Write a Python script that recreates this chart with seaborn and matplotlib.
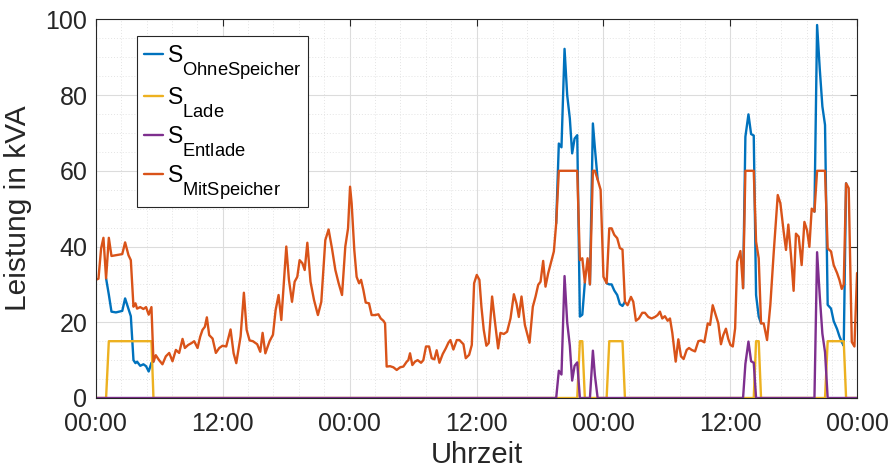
import numpy as np
import pandas as pd
import matplotlib
matplotlib.use("Agg")
import matplotlib.pyplot as plt
import matplotlib._mathtext as _mt
from matplotlib.lines import Line2D
from matplotlib.ticker import MultipleLocator, FixedLocator
import seaborn as sns

# ---------------- data (time in hours from first 00:00) ----------------
mit_t = [0.00, 0.25, 0.50, 0.72, 0.97, 1.23, 1.48, 1.90, 2.50, 2.77, 3.09, 3.31, 3.56, 3.75, 3.90,
         4.20, 4.50, 4.75, 5.00, 5.26, 5.45, 5.67, 5.98, 6.30, 6.62, 6.94, 7.25, 7.57, 7.88, 8.20,
         8.42, 8.73, 9.05, 9.30, 9.62, 9.87, 10.09, 10.31, 10.50, 10.72, 11.04, 11.35, 11.67, 11.98,
         12.33, 12.74, 13.03, 13.28, 13.69, 14.00, 14.26, 14.54, 14.85, 15.26, 15.55, 15.77, 16.03,
         16.43, 16.75, 17.00, 17.28, 17.54, 18.01, 18.26, 18.55, 18.80, 19.05, 19.27, 19.53, 19.75,
         20.00, 20.30, 20.63, 21.00, 21.32, 21.70, 22.01, 22.33, 22.65, 22.96, 23.28, 23.59, 23.85,
         24.04, 24.19, 24.44, 24.66, 24.89, 25.08, 25.30, 25.52, 25.83, 26.08, 26.40, 26.72, 26.94,
         27.19, 27.35, 27.50, 27.82, 28.14, 28.45, 28.77, 29.08, 29.40, 29.55, 29.71, 29.93, 30.18,
         30.43, 30.75, 30.97, 31.22, 31.51, 31.76, 32.01, 32.23, 32.49, 32.80, 33.09, 33.34, 33.53,
         33.81, 34.13, 34.38, 34.76, 34.98, 35.30, 35.55, 35.77, 36.02, 36.27, 36.46, 36.68, 36.93,
         37.15, 37.47, 37.72, 38.04, 38.26, 38.58, 38.89, 39.21, 39.53, 39.78, 40.00, 40.25, 40.57,
         41.01, 41.32, 41.58, 41.83, 42.05, 42.30, 42.52, 42.77, 43.02, 43.31, 43.53, 43.78, 44.03,
         44.32, 44.57, 44.82, 45.04, 45.27, 45.52, 45.77, 46.00, 46.24, 46.50, 46.72, 47.00, 47.19,
         47.45, 47.73, 48.00, 48.30, 48.55, 48.77, 49.02, 49.30, 49.55, 49.80, 50.03, 50.28, 50.60,
         50.82, 51.07, 51.35, 51.67, 51.92, 52.24, 52.55, 52.87, 53.12, 53.34, 53.56, 53.81, 54.07,
         54.29, 54.51, 54.83, 55.08, 55.33, 55.58, 55.87, 56.09, 56.34, 56.66, 56.97, 57.23, 57.54,
         57.86, 58.08, 58.33, 58.62, 58.86, 59.11, 59.33, 59.58, 59.80, 60.01, 60.23, 60.45, 60.64,
         60.95, 61.20, 61.42, 61.71, 61.96, 62.21, 62.43, 62.68, 62.90, 63.15, 63.47, 63.78, 64.10,
         64.48, 64.73, 65.04, 65.26, 65.48, 65.73, 65.98, 66.20, 66.46, 66.74, 67.00, 67.25, 67.47,
         67.69, 67.95, 68.20, 68.95, 69.20, 69.52, 69.77, 70.09, 70.31, 70.53, 70.72, 70.94, 71.19,
         71.48, 71.73, 71.98]
mit_v = [31.2, 31.5, 39.5, 42.3, 31.6, 42.3, 37.5, 37.7, 38.0, 41.1, 37.7, 36.4, 24.1, 25.0, 23.6,
         24.0, 23.5, 24.0, 22.0, 24.0, 9.6, 11.3, 10.0, 8.9, 11.0, 11.9, 9.7, 12.7, 11.9, 15.6,
         13.2, 14.0, 14.5, 15.0, 13.2, 16.2, 18.0, 18.8, 21.3, 16.6, 15.7, 11.9, 13.2, 13.8,
         13.6, 18.1, 11.8, 9.2, 16.3, 27.8, 18.0, 15.2, 15.0, 14.2, 12.2, 17.2, 11.8,
         15.0, 16.7, 23.2, 27.2, 20.6, 40.0, 31.2, 25.4, 30.7, 32.0, 36.4, 35.6, 33.8,
         41.0, 30.7, 25.9, 21.9, 25.4, 41.7, 44.5, 39.5, 33.8, 30.3, 27.2, 40.0, 44.8,
         55.8, 51.4, 39.1, 32.0, 30.3, 31.2, 28.5, 25.2, 25.0, 21.9, 21.9, 22.1, 21.0,
         20.4, 19.7, 8.3, 8.4, 8.1, 7.4, 8.1, 8.3, 9.6, 10.0, 11.8, 8.7, 9.6,
         10.0, 9.3, 10.0, 13.6, 13.6, 10.5, 10.2, 12.6, 9.3, 11.6, 13.1, 14.6, 15.3,
         12.8, 15.3, 15.3, 14.2, 10.5, 11.4, 14.0, 30.3, 32.5, 31.2, 24.1, 18.0, 13.8,
         14.5, 26.8, 20.6, 13.1, 17.2, 16.9, 17.5, 21.0, 27.4, 24.9, 21.4, 26.8, 19.3,
         14.6, 24.1, 26.8, 29.9, 30.7, 36.2, 29.4, 32.9, 35.6, 38.7, 46.1, 60.0, 60.0,
         60.0, 60.0, 60.0, 60.0, 60.0, 60.0, 36.4, 36.9, 30.5, 36.9, 30.0, 60.0, 60.0,
         57.7, 55.0, 32.0, 30.3, 44.8, 44.8, 43.1, 42.2, 39.6, 39.2, 25.4, 24.5, 26.7,
         25.4, 20.4, 21.0, 22.5, 22.5, 21.4, 21.0, 21.4, 21.9, 22.8, 21.0, 21.6, 20.4,
         21.0, 17.2, 9.6, 15.5, 11.0, 10.3, 12.7, 13.2, 12.7, 12.3, 15.0, 15.2, 14.7,
         19.7, 19.3, 24.5, 21.9, 19.7, 14.2, 16.6, 18.3, 15.6, 14.0, 13.6, 18.4, 36.0,
         38.8, 29.0, 60.0, 60.0, 60.0, 60.0, 41.3, 36.9, 19.7, 19.7, 15.3, 24.6, 38.5,
         53.6, 51.4, 43.9, 39.1, 45.8, 37.7, 28.3, 43.4, 42.6, 35.1, 46.5, 44.3, 39.9,
         50.0, 49.2, 60.0, 60.0, 39.5, 38.7, 35.1, 33.0, 31.2, 28.8, 30.0, 56.7, 55.4,
         14.8, 13.6, 33.0]

# S_OhneSpeicher: only where it differs from S_MitSpeicher (elsewhere identical, hidden below)
ohne_seg = [1] * 17 + [2] * 12 + [3] * 4 + [4] * 8 + [5] * 8 + [6] * 13
ohne_t = [0.97, 1.23, 1.48, 1.90, 2.50, 2.77, 3.09, 3.31, 3.56, 3.75, 3.90, 4.20, 4.50, 4.75, 5.00, 5.26, 5.45,
          43.53, 43.78, 44.03, 44.32, 44.57, 44.82, 45.04, 45.27, 45.52, 45.77, 46.00, 46.24,
          46.72, 47.00, 47.19, 47.45,
          48.30, 48.55, 48.77, 49.02, 49.30, 49.55, 49.80, 50.03,
          61.20, 61.42, 61.71, 61.96, 62.21, 62.43, 62.68, 62.90,
          67.95, 68.20, 68.45, 68.70, 68.95, 69.20, 69.52, 69.77, 70.09, 70.31, 70.53, 70.72, 70.94]
ohne_v = [31.6, 27.3, 22.8, 22.6, 23.0, 26.3, 23.5, 21.6, 10.0, 9.2, 9.6, 8.5, 8.9, 8.4, 7.0, 9.3, 9.6,
          46.1, 67.2, 66.2, 92.2, 80.0, 73.8, 64.6, 68.5, 69.4, 21.5, 22.0, 30.5,
          30.0, 72.5, 66.0, 57.7,
          30.3, 30.0, 30.0, 28.4, 27.2, 24.8, 24.3, 25.4,
          29.0, 69.0, 74.9, 69.7, 69.3, 27.2, 21.5, 19.7,
          49.2, 98.5, 87.0, 77.0, 72.1, 24.6, 23.6, 20.3, 18.2, 16.3, 14.8, 13.8, 56.7]

lade_t = [0, 0.97, 1.23, 5.26, 5.45, 45.52, 45.77, 46.00, 46.24, 48.30, 48.55, 49.80, 50.03,
          62.21, 62.43, 62.68, 62.90, 68.95, 69.20, 70.72, 70.94, 72]
lade_v = [0, 0, 15, 15, 0, 0, 15, 15, 0, 0, 15, 15, 0, 0, 15, 15, 0, 0, 15, 15, 0, 0]

entlade_t = [0, 43.53, 43.78, 44.03, 44.32, 44.57, 44.82, 45.04, 45.27, 45.52, 45.77, 46.72, 47.00,
             47.19, 47.45, 61.20, 61.42, 61.71, 61.96, 62.21, 62.43, 67.95, 68.20, 68.45, 68.70,
             68.95, 69.20, 72]
entlade_v = [0, 0, 7.2, 6.2, 32.2, 20.0, 13.8, 4.6, 8.5, 9.4, 0, 0, 12.5,
             6.0, 0, 0, 9.0, 14.9, 9.7, 9.3, 0, 0, 38.5, 27.0, 17.0,
             12.1, 0, 0]

x_ticks = [0, 12, 24, 36, 48, 60, 72]
x_ticklabels = ["00:00", "12:00", "00:00", "12:00", "00:00", "12:00", "00:00"]
y_ticks = [0, 20, 40, 60, 80, 100]

labels = [r"$\mathregular{S_{OhneSpeicher}}$", r"$\mathregular{S_{Lade}}$",
          r"$\mathregular{S_{Entlade}}$", r"$\mathregular{S_{MitSpeicher}}$"]
colors = ["#0072BD", "#EDB120", "#7E2F8E", "#D95319"]

# ---------------- style ----------------
sns.set_style("white")
plt.rcParams["font.family"] = ["Liberation Sans", "DejaVu Sans"]
plt.rcParams["mathtext.fontset"] = "custom"
plt.rcParams["mathtext.rm"] = "Liberation Sans"
# MATLAB-like TeX subscripts: a bit larger and dropped lower than matplotlib's default
_mt.SHRINK_FACTOR = 0.8
_mt.FontConstantsBase.sub1 = 1.0
txt = "#262626"

fig = plt.figure(figsize=(8.93, 4.71), dpi=100)
ax = fig.add_axes([0.1073, 0.155, 0.8527, 0.804])

lw = 1.7
df_ohne = pd.DataFrame({"t": ohne_t, "v": ohne_v, "seg": ohne_seg})
sns.lineplot(data=df_ohne, x="t", y="v", units="seg", estimator=None, sort=False,
             color=colors[0], lw=lw, ax=ax)
sns.lineplot(x=lade_t, y=lade_v, estimator=None, sort=False, color=colors[1], lw=lw, ax=ax)
sns.lineplot(x=entlade_t, y=entlade_v, estimator=None, sort=False, color=colors[2], lw=lw, ax=ax)
sns.lineplot(x=mit_t, y=mit_v, estimator=None, sort=False, color=colors[3], lw=lw, ax=ax)

ax.set_xlim(0, 72)
ax.set_ylim(0, 100)
ax.xaxis.set_major_locator(FixedLocator(x_ticks))
ax.set_xticklabels(x_ticklabels)
ax.yaxis.set_major_locator(FixedLocator(y_ticks))
ax.xaxis.set_minor_locator(MultipleLocator(2.4))
ax.yaxis.set_minor_locator(MultipleLocator(5))

ax.grid(which="major", color="#dcdcdc", lw=0.8)
ax.grid(which="minor", color="#e4e4e4", lw=0.7, ls=(0, (1, 2)))
ax.set_axisbelow(True)

ax.tick_params(which="major", direction="in", top=True, right=True, length=5, width=0.8,
               color=txt, labelcolor=txt, labelsize=18)
ax.tick_params(axis="x", which="major", pad=10)
ax.tick_params(axis="y", which="major", pad=6)
ax.tick_params(which="minor", length=0)
for s in ax.spines.values():
    s.set_color(txt)
    s.set_linewidth(0.8)

ax.set_xlabel("Uhrzeit", fontsize=21, color=txt, labelpad=4)
ax.set_ylabel("Leistung in kVA", fontsize=21.5, color=txt, labelpad=10)

handles = [Line2D([0], [0], color=c, lw=lw) for c in colors]
leg = ax.legend(handles, labels, loc="upper left", bbox_to_anchor=(0.054, 0.956),
                fontsize=16.5, frameon=True, fancybox=False, framealpha=1,
                edgecolor=txt, handlelength=0.85, handletextpad=0.15, labelspacing=0.2,
                borderpad=0.3, borderaxespad=0)
leg.get_frame().set_linewidth(0.8)
for t in leg.get_texts():
    t.set_color("black")

fig.savefig("out.png", dpi=100)
